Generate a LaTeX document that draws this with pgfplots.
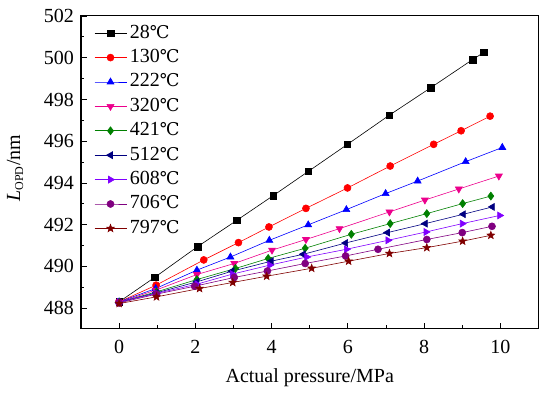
\documentclass[border=0pt]{standalone}
\usepackage{fontspec}
\setmainfont{Liberation Serif}
\newfontfamily\symfont[Scale=0.88]{DejaVu Serif}
\usepackage{pgfplots}
\pgfplotsset{compat=1.18}
\newcommand{\dC}{{\symfont ℃}}
\definecolor{cgreen}{RGB}{0,128,0}
\definecolor{cnavy}{RGB}{0,0,128}
\definecolor{cviolet}{RGB}{128,0,255}
\definecolor{cpurple}{RGB}{128,0,128}
\definecolor{cdred}{RGB}{128,0,0}
\pgfdeclareplotmark{fstar}{%
  \pgfpathmoveto{\pgfpointpolar{90}{\pgfplotmarksize}}%
  \pgfpathlineto{\pgfpointpolar{126}{0.42\pgfplotmarksize}}%
  \pgfpathlineto{\pgfpointpolar{162}{\pgfplotmarksize}}%
  \pgfpathlineto{\pgfpointpolar{198}{0.42\pgfplotmarksize}}%
  \pgfpathlineto{\pgfpointpolar{234}{\pgfplotmarksize}}%
  \pgfpathlineto{\pgfpointpolar{270}{0.42\pgfplotmarksize}}%
  \pgfpathlineto{\pgfpointpolar{306}{\pgfplotmarksize}}%
  \pgfpathlineto{\pgfpointpolar{342}{0.42\pgfplotmarksize}}%
  \pgfpathlineto{\pgfpointpolar{18}{\pgfplotmarksize}}%
  \pgfpathlineto{\pgfpointpolar{54}{0.42\pgfplotmarksize}}%
  \pgfpathclose\pgfusepathqfillstroke}
\begin{document}
\begin{tikzpicture}
\begin{axis}[name=ax,
  scale only axis, width=457.5pt, height=313pt,
  xmin=-1, xmax=11, ymin=487, ymax=502,
  xtick={0,2,...,10}, ytick={488,490,...,502},
  minor xtick={1,3,...,9}, minor ytick={489,491,...,501},
  tick align=inside, xtick pos=bottom, ytick pos=left,
  major tick length=6pt, minor tick length=3.5pt,
  axis line style={line width=1pt},
  every tick/.style={black, line width=0.8pt},
  /pgf/number format/assume math mode=true,
  font=\fontsize{20}{24}\selectfont,
  xticklabel style={yshift=-8pt},
  yticklabel style={xshift=-3.5pt},
  xlabel={Actual pressure/MPa},
  ylabel={\textit{L}\textsubscript{\fontsize{12}{14}\selectfont OPD}/nm},
  xlabel style={at={(axis description cs:0.5,-0.1725)}, anchor=base},
  ylabel style={at={(axis description cs:-0.144,0.514)}, anchor=center},
  legend cell align=left,
  legend style={draw=none, fill=none, at={(rel axis cs:0,1)}, anchor=north west,
    xshift=13pt, yshift=-7pt, inner sep=0pt, row sep=4.4pt,
    nodes={inner sep=1pt, text height=14pt, text depth=4pt},
    /tikz/every odd column/.style={column sep=2pt}},
  legend image code/.code={\draw[mark repeat=2,mark phase=2] plot coordinates {(0pt,0pt) (16pt,0pt) (32pt,0pt)};},
  every axis plot/.append style={line width=0.6pt, mark size=3.5pt},
]
\addplot[black, mark=square*, mark size=3.3pt] coordinates {(0,488.30) (0.93,489.47) (2.06,490.95) (3.08,492.20) (4.04,493.39) (4.96,494.55) (5.99,495.85) (7.09,497.25) (8.18,498.57) (9.27,499.91) (9.57,500.26)};
\addlegendentry{28\dC}
\addplot[red, mark=*] coordinates {(0,488.30) (0.97,489.10) (2.22,490.31) (3.13,491.14) (3.93,491.89) (4.90,492.78) (5.99,493.76) (7.11,494.81) (8.25,495.85) (8.97,496.50) (9.73,497.20)};
\addlegendentry{130\dC}
\addplot[blue, mark=triangle*, mark size=4pt] coordinates {(0,488.30) (0.96,488.94) (2.04,489.82) (2.92,490.45) (3.94,491.25) (4.96,491.99) (5.96,492.72) (6.99,493.49) (7.83,494.09) (9.09,495.02) (10.05,495.70)};
\addlegendentry{222\dC}
\addplot[magenta, mark=triangle*, mark size=4pt, mark options={rotate=180}] coordinates {(0,488.28) (0.96,488.86) (2.04,489.61) (3.02,490.14) (4.01,490.78) (4.90,491.29) (5.78,491.81) (7.09,492.61) (8.02,493.18) (8.91,493.71) (9.96,494.33)};
\addlegendentry{320\dC}
\addplot[cgreen, mark=diamond*, mark size=4pt] coordinates {(0,488.28) (0.98,488.78) (2.04,489.37) (3.05,489.90) (3.91,490.38) (4.88,490.87) (6.09,491.54) (7.11,492.05) (8.07,492.53) (9.01,493.01) (9.75,493.37)};
\addlegendentry{421\dC}
\addplot[cnavy, mark=triangle*, mark size=4pt, mark options={rotate=90}] coordinates {(0,488.28) (0.97,488.73) (2.04,489.26) (2.96,489.77) (3.99,490.25) (4.83,490.58) (5.94,491.12) (7.04,491.62) (8.03,492.05) (9.03,492.50) (9.79,492.85)};
\addlegendentry{512\dC}
\addplot[cviolet, mark=triangle*, mark size=4pt, mark options={rotate=-90}] coordinates {(0,488.30) (0.97,488.70) (2.04,489.15) (2.97,489.63) (3.95,490.06) (4.92,490.45) (5.96,490.82) (7.05,491.25) (8.05,491.65) (9.00,492.05) (9.98,492.44)};
\addlegendentry{608\dC}
\addplot[cpurple, mark=*] coordinates {(0,488.25) (0.98,488.67) (1.98,489.05) (3.02,489.47) (3.89,489.78) (4.88,490.14) (5.94,490.50) (6.79,490.82) (8.07,491.29) (9.00,491.62) (9.78,491.92)};
\addlegendentry{706\dC}
\addplot[cdred, mark=fstar, mark size=4pt] coordinates {(0,488.22) (0.98,488.54) (2.11,488.94) (2.98,489.23) (3.87,489.53) (5.05,489.91) (6.02,490.25) (7.09,490.62) (8.07,490.90) (9.01,491.21) (9.75,491.49)};
\addlegendentry{797\dC}
\end{axis}
\pgfresetboundingbox
\path (ax.south west) ++(-81pt,-66pt) coordinate (bl);
\path (ax.north east) ++(1.5pt,16pt) coordinate (tr);
\path[use as bounding box] (bl) rectangle (tr);
\end{tikzpicture}
\end{document}
